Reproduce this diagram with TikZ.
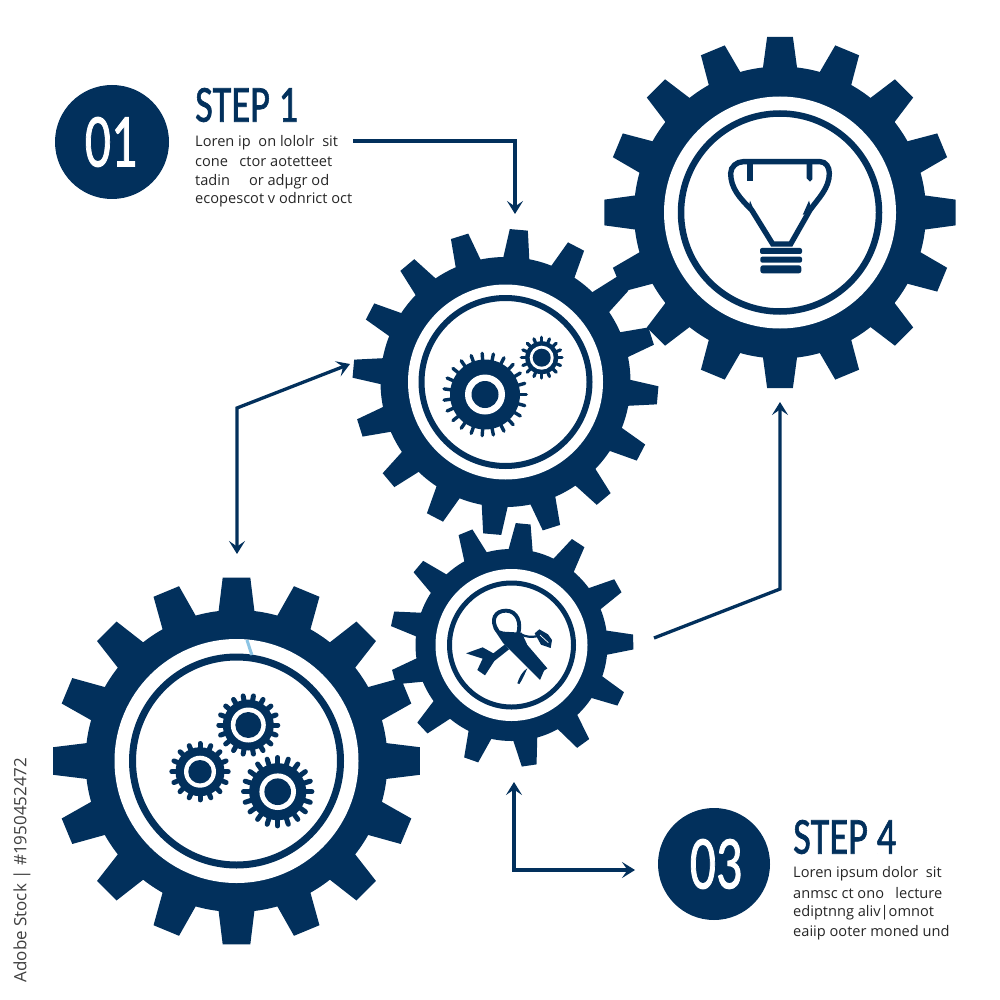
\documentclass[tikz,border=0pt]{standalone}
\usepackage{fontspec}
\setmainfont{Open Sans}
\newfontfamily\headfont[FakeBold=1.4]{Carlito}
\usetikzlibrary{arrows.meta}
\definecolor{navy}{HTML}{02305C}
\definecolor{sliver}{HTML}{8CC4E4}
\tikzset{
  conn/.style={draw=navy,line width=3.3pt,line join=miter,-{Stealth[length=13pt,width=16pt,inset=5.5pt]}},
  connboth/.style={draw=navy,line width=3.3pt,line join=miter,{Stealth[length=13pt,width=16pt,inset=5.5pt]}-{Stealth[length=13pt,width=16pt,inset=5.5pt]}},
  badge/.style={circle,fill=navy,draw=none,inner sep=0pt,text=white},
  stephead/.style={anchor=west,inner sep=0pt,text=navy,font=\headfont\fontsize{52}{52}\selectfont,xscale=.74,transform shape},
  digits/.style={inner sep=0pt,text=white,font=\headfont\fontsize{76}{76}\selectfont,xscale=.68,transform shape},
  bodyline/.style={anchor=west,inner sep=0pt,text=black!85,font=\fontsize{14.6}{14.6}\selectfont},
  sidemark/.style={inner sep=0pt,text=black!75,rotate=90,font=\fontsize{17}{17}\selectfont},
  icon/.style={fill=navy,draw=none},
  iconline/.style={draw=navy,fill=none,line cap=round,line join=round},
}
% #1 cx, #2 cy, #3 tip R, #4 root r, #5 teeth, #6 phase (clockwise from up), #7 tip half-angle, #8 base half-angle, #9 white ring outer
\newcommand{\biggear}[9]{%
  \fill[navy] (#1,#2) circle[radius=#4];
  \pgfmathsetmacro{\stepang}{360/#5}
  \foreach \k in {1,...,#5}{
    \pgfmathsetmacro{\ang}{#6-90+\k*\stepang}
    \fill[navy] ([shift={(\ang-#8:#4-2)}]#1,#2) -- ([shift={(\ang-#7:#3)}]#1,#2) -- ([shift={(\ang+#7:#3)}]#1,#2) -- ([shift={(\ang+#8:#4-2)}]#1,#2) -- cycle;
  }
  \fill[white] (#1,#2) circle[radius=#9];
}
% #1 cx, #2 cy, #3 tip R, #4 root r, #5 teeth, #6 tooth width, #7 ring outer, #8 ring inner
\newcommand{\tinygear}[8]{%
  \pgfmathsetmacro{\stepang}{360/#5}
  \foreach \k in {1,...,#5}{
    \pgfmathsetmacro{\ang}{\k*\stepang}
    \draw[navy,line width=#6pt,line cap=round] ([shift={(\ang:#4-1)}]#1,#2) -- ([shift={(\ang:#3-#6/2)}]#1,#2);
  }
  \fill[navy] (#1,#2) circle[radius=#4];
  \fill[white] (#1,#2) circle[radius=#7];
  \fill[navy] (#1,#2) circle[radius=#8];
}
\begin{document}
\begin{tikzpicture}[x=1pt,y=-1pt]
\useasboundingbox[fill=white] (0,0) rectangle (1000,1000);

% top-right gear
\biggear{780}{212.5}{176}{146}{16}{0}{4.2}{6.9}{116}
\draw[navy,line width=6.5pt] (780,212.5) circle[radius=99];
% middle gear
\biggear{505.5}{382}{153}{125}{16}{5}{3.4}{6.2}{97.5}
\draw[navy,line width=6pt] (505.5,382) circle[radius=84];
% small gear
\biggear{511.5}{645}{122}{96}{13}{5.5}{3.5}{7.6}{76}
\draw[navy,line width=5pt] (511.5,645) circle[radius=62];
% left gear
\biggear{236.5}{761}{184}{151}{16}{0}{4.3}{7}{122}
\draw[navy,line width=7pt] (236.5,761) circle[radius=104];
\draw[sliver,line width=3pt] (247,640) .. controls (249,646) and (250,650) .. (252,655);

% gear icons
\tinygear{485}{394.5}{43}{35}{23}{3.4}{20}{13.5}
\tinygear{541.7}{357.7}{22}{16.5}{16}{3.2}{12}{9}
\tinygear{248.3}{725}{32}{25.5}{18}{5}{17.5}{13}
\tinygear{200}{771.7}{30.7}{24.5}{16}{5}{16}{11.7}
\tinygear{277.7}{791.7}{36.7}{28.5}{20}{5}{18.3}{13.3}

% bulb icon
\begin{scope}[shift={(700,130)},scale=.33333]
  \draw[iconline,line width=5.4pt,line cap=butt,line join=miter]
    (218,342) -- (155,240) .. controls (120,205) and (92,175) .. (92,130)
    .. controls (92,110) and (110,95) .. (130,95) -- (360,95)
    .. controls (378,95) and (388,112) .. (388,130)
    .. controls (388,175) and (355,205) .. (330,240) -- (272,342) -- cycle;
  \fill[icon] (142,100) rectangle (158,152);
  \fill[icon] (320,100) -- (337,100) -- (337,148) -- (330,155) -- (320,145) -- cycle;
  \fill[icon] (150,212) -- (168,255) -- (145,240) -- cycle;
  \fill[icon] (327,212) -- (308,255) -- (335,240) -- cycle;
  \fill[icon,rounded corners=2pt] (180,354) rectangle (306,372);
  \fill[icon,rounded corners=2pt] (181,380) rectangle (306,398);
  \fill[icon,rounded corners=2.5pt] (181,406) rectangle (304,430);
\end{scope}

% tools icon
\begin{scope}[shift={(440,590)},scale=.33333]
  \draw[iconline,line width=3.9pt] (172,122) .. controls (150,90) and (165,62) .. (198,62)
    .. controls (232,62) and (245,100) .. (234,132);
  \fill[icon] (160,115) -- (190,125) -- (245,128) -- (262,165) -- (322,235) -- (312,242) -- (300,270) -- (190,160) -- cycle;
  \fill[icon] (78,190) -- (128,172) -- (160,190) -- (195,163) -- (207,178) -- (163,213) -- (135,256) -- (112,240) -- (128,206) -- cycle;
  \draw[iconline,line width=2.2pt] (240,132) .. controls (260,142) and (275,142) .. (295,138);
  \fill[icon] (284,130) -- (298,118) -- (324,133) -- (336,150) -- (332,174) -- (303,164) -- cycle;
  \draw[white,line width=.7pt] (300,135) -- (325,158);
  \fill[icon] (232,280) .. controls (238,260) and (248,243) .. (262,235) .. controls (255,250) and (248,268) .. (238,282) -- cycle;
\end{scope}

% connector ends
\coordinate (stepOneOut) at (353,141);
\coordinate (stepOneBend) at (515,141);
\coordinate (midIn) at (515,214);
\coordinate (midLeft) at (350,364);
\coordinate (leftBend) at (237,408);
\coordinate (leftTop) at (237,554);
\coordinate (toolsOut) at (654,638);
\coordinate (toolsBend) at (780,589);
\coordinate (bulbIn) at (780,402);
\coordinate (toolsDown) at (514,782);
\coordinate (stepFourBend) at (514,870);
\coordinate (stepFourIn) at (635,870);

\path[conn] (stepOneOut) -- (stepOneBend) -- (midIn);
\path[connboth] (midLeft) -- (leftBend) -- (leftTop);
\path[conn] (toolsOut) -- (toolsBend) -- (bulbIn);
\path[connboth] (toolsDown) -- (stepFourBend) -- (stepFourIn);

% badges
\node[badge,minimum size=114pt] (badgeA) at (112,142) {};
\node[digits] (badgeAtext) at (111,142) {01};
\node[badge,minimum size=112pt] (badgeB) at (714,864) {};
\node[digits] (badgeBtext) at (716,864) {03};

% step 1 text
\node[stephead] (headA) at (195,105) {STEP 1};
\node[bodyline] (a1) at (195,143) {Loren ip\ \ on lololr \ sit};
\node[bodyline] (a2) at (195,162) {cone \ \ ctor aotetteet};
\node[bodyline] (a3) at (195,181.5) {tadin \ \ \ \ or adµgr od};
\node[bodyline] (a4) at (195,200) {ecopescot v odnrict oct};

% step 4 text
\node[stephead] (headB) at (793,837) {STEP 4};
\node[bodyline] (b1) at (793,874) {Loren ipsum dolor \ sit};
\node[bodyline] (b2) at (793,893) {anmsc ct ono \ \ lecture};
\node[bodyline] (b3) at (793,913) {ediptnng aliv|omnot};
\node[bodyline] (b4) at (793,932.5) {eaiip ooter moned und};

% side credit
\node[sidemark] (credit) at (22,870) {Adobe Stock | \#1950452472};
\end{tikzpicture}
\end{document}
